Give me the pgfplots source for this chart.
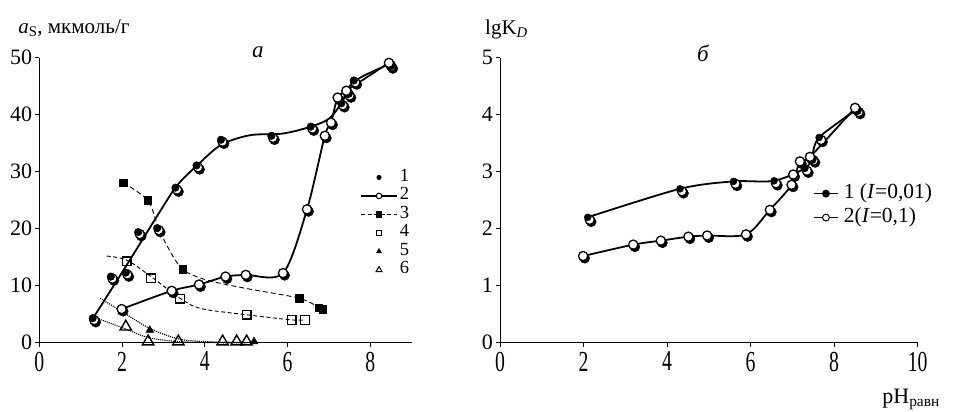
\documentclass[border=0pt]{standalone}
\usepackage{fontspec}
\setmainfont{Liberation Serif}
\usepackage{graphicx}
\usepackage{pgfplots}
\pgfplotsset{compat=1.18}

\pgfplotsset{
  panel/.style={
    scale only axis, height=285pt, anchor=south west,
    axis lines=left, axis line style={line width=1pt,-},
    xmin=0, ymin=0, clip=false,
    tick align=outside, major tick length=4pt,
    tick style={black, line width=1pt},
    /pgf/number format/assume math mode=true,
    yticklabel style={font=\fontsize{22}{22}\selectfont, inner sep=0pt, xshift=-3pt},
    xticklabel style={font=\fontsize{29}{29}\selectfont, inner sep=0pt, yshift=-5pt},
    xticklabel={\scalebox{0.68}[1]{\pgfmathprintnumber{\tick}}},
    legend cell align=left,
  },
  % dark offset disc under open circles
  shadowmk/.style 2 args={only marks, forget plot, mark=*, mark size=5pt,
    mark options={fill=black, draw=black, line width=0.4pt, xshift=#1, yshift=#2}},
  whitemk/.style 2 args={only marks, forget plot, mark=*, mark size=4.6pt,
    mark options={fill=white, draw=black, line width=1.3pt, xshift=#1, yshift=#2}},
}

\begin{document}
\begin{tikzpicture}
\path[use as bounding box] (-39.3pt,-69.3pt) rectangle (914.7pt,342.7pt);

% ---------- panel a ----------
\begin{axis}[panel, at={(0pt,0pt)}, width=372.4pt,
  xmax=9, ymax=50, xtick={0,2,4,6,8}, ytick={0,10,20,30,40,50},
  legend style={at={(0.861,0.613)}, anchor=north west, draw=none, fill=none,
    inner sep=0pt, row sep=0pt, column sep=2pt,
    font=\fontsize{18.5}{18.5}\selectfont,
    nodes={inner sep=0pt, text height=13pt, text depth=5.5pt}},
  legend image code/.code={\draw[mark repeat=2,mark phase=2,#1] plot coordinates {(0pt,0pt) (18pt,0pt) (36pt,0pt)};},
]
\addlegendimage{only marks, mark=*, mark size=2.3pt}
\addlegendentry{1}
\addlegendimage{line width=1.8pt, mark=*, mark size=2.8pt, mark options={fill=white, line width=1pt}}
\addlegendentry{2}
\addlegendimage{line width=1pt, dash pattern=on 4pt off 2.5pt, mark=square*, mark size=2.6pt, mark options={solid}}
\addlegendentry{3}
\addlegendimage{only marks, mark=square, mark size=2.7pt, mark options={line width=1pt}}
\addlegendentry{4}
\addlegendimage{only marks, mark=triangle*, mark size=3pt}
\addlegendentry{5}
\addlegendimage{only marks, mark=triangle, mark size=3.4pt, mark options={line width=1pt}}
\addlegendentry{6}

% series 5 and 6 fit lines
\addplot[forget plot, smooth, densely dotted, line width=1.1pt] coordinates {
  (1.47,7.8) (1.99,5.5) (2.67,2.5) (3.40,0.6) (4.20,0.15) (5.19,0.0)};
\addplot[forget plot, smooth, densely dotted, line width=1.1pt] coordinates {
  (1.39,4.3) (2.09,2.4) (2.63,0.9) (3.36,0.2) (4.43,0.0) (5.01,0.0)};
% series 4 fit line
\addplot[forget plot, smooth, line width=0.9pt, dash pattern=on 4pt off 2.5pt] coordinates {
  (1.63,15.2) (2.11,14.5) (2.70,11.6) (3.40,7.8) (3.90,6.0) (5.01,4.9) (6.10,4.0) (6.42,4.0)};
% series 3 fit line
\addplot[forget plot, smooth, line width=0.9pt, dash pattern=on 5pt off 3pt] coordinates {
  (2.03,28.1) (2.62,25.0) (2.84,21.0) (3.08,17.1) (3.46,12.9) (4.04,11.0) (5.01,9.5) (6.28,7.8) (6.80,6.0)};
% series 1 fit line
\addplot[forget plot, smooth, line width=1.8pt] coordinates {
  (1.30,4.3) (2.11,13.6) (2.88,22.6) (3.33,27.6) (3.80,31.0) (4.39,34.7) (5.09,36.4)
  (5.89,36.7) (6.56,37.9) (7.00,39.3) (7.30,42.0) (7.60,45.8) (8.47,48.9)};

% series 3 markers
\addplot[only marks, forget plot, mark=square*, mark size=3.7pt] coordinates {
  (2.03,28.1) (2.62,25.0) (3.46,12.9) (6.28,7.8) (6.75,6.1) (6.85,5.9)};
% series 4 markers
\addplot[only marks, forget plot, mark=square, mark size=4.3pt, mark options={fill=white, line width=1.3pt}] coordinates {
  (2.11,14.3) (2.70,11.3) (3.40,7.7) (5.01,4.9) (6.10,4.0) (6.42,4.0)};
% series 6 markers
\addplot[only marks, forget plot, mark=triangle, mark size=6.5pt, mark options={fill=white, line width=1.4pt}] coordinates {
  (2.09,2.8) (2.63,0.2) (3.36,0.2) (4.43,0.2) (4.77,0.2) (5.01,0.2)};
% series 5 markers
\addplot[only marks, forget plot, mark=triangle*, mark size=4.5pt] coordinates {
  (1.99,5.4) (2.67,2.2) (5.19,0.2)};

% series 1: filled dots with a white halo
\addplot[shadowmk={3.1pt}{-4pt}] coordinates {
  (1.29,4.3) (1.73,11.6) (2.09,12.3) (2.39,19.4) (2.85,20.1) (3.29,27.2) (3.80,31.1)
  (4.39,35.6) (5.61,36.3) (6.56,37.9) (7.30,42.0) (7.46,43.7) (7.60,46.0) (8.47,48.8)};
\addplot[whitemk={1.6pt}{-2pt}] coordinates {
  (1.29,4.3) (1.73,11.6) (2.09,12.3) (2.39,19.4) (2.85,20.1) (3.29,27.2) (3.80,31.1)
  (4.39,35.6) (5.61,36.3) (6.56,37.9) (7.30,42.0) (7.46,43.7) (7.60,46.0) (8.47,48.8)};
\addplot[only marks, forget plot, mark=*, mark size=3.8pt] coordinates {
  (1.29,4.3) (1.73,11.6) (2.09,12.3) (2.39,19.4) (2.85,20.1) (3.29,27.2) (3.80,31.1)
  (4.39,35.6) (5.61,36.3) (6.56,37.9) (7.30,42.0) (7.46,43.7) (7.60,46.0) (8.47,48.8)};

% series 2: open circles and curve
\addplot[forget plot, smooth, line width=1.8pt] coordinates {
  (1.99,5.9) (3.20,9.1) (3.86,10.2) (4.50,11.6) (4.99,11.9) (5.89,12.2)
  (6.47,23.4) (6.90,36.3) (7.05,38.6) (7.21,43.0) (7.42,44.2) (8.45,49.1)};
\addplot[shadowmk={1.6pt}{-2.2pt}] coordinates {
  (1.99,5.9) (3.20,9.1) (3.86,10.2) (4.50,11.6) (4.99,11.9) (5.89,12.2)
  (6.47,23.4) (6.90,36.3) (7.05,38.6) (7.21,43.0) (7.42,44.2) (8.45,49.1)};
\addplot[whitemk={0pt}{0pt}] coordinates {
  (1.99,5.9) (3.20,9.1) (3.86,10.2) (4.50,11.6) (4.99,11.9) (5.89,12.2)
  (6.47,23.4) (6.90,36.3) (7.05,38.6) (7.21,43.0) (7.42,44.2) (8.45,49.1)};

\node[anchor=base west, font=\fontsize{21}{21}\selectfont, inner sep=0pt]
  at (rel axis cs:-0.057,1.084) {\textit{a}\textsubscript{S}, мкмоль/г};
\node[font=\fontsize{23}{23}\selectfont\itshape, inner sep=0pt] at (axis cs:5.28,51.0) {а};
\end{axis}

% ---------- panel b ----------
\begin{axis}[panel, at={(460.7pt,0pt)}, width=417.7pt,
  xmax=10, ymax=5, xtick={0,2,4,6,8,10}, ytick={0,1,2,3,4,5},
  legend style={at={(0.749,0.566)}, anchor=north west, draw=none, fill=none,
    inner sep=0pt, row sep=0pt, column sep=5pt,
    font=\fontsize{21.5}{21.5}\selectfont,
    nodes={inner sep=0pt, text height=17pt, text depth=7pt}},
  legend image code/.code={\draw[mark repeat=2,mark phase=2,#1] plot coordinates {(0pt,0pt) (12pt,0pt) (24pt,0pt)};},
]
\addlegendimage{line width=1.8pt, mark=*, mark size=3pt}
\addlegendentry{1 (\textit{I}=0,01)}
\addlegendimage{line width=1.8pt, mark=*, mark size=3.4pt, mark options={fill=white, line width=1pt}}
\addlegendentry{2(\textit{I}=0,1)}

% series 1
\addplot[forget plot, smooth, line width=1.8pt] coordinates {
  (2.10,2.20) (4.31,2.70) (5.59,2.83) (6.56,2.84) (7.30,3.06) (7.46,3.24) (7.64,3.60) (8.54,4.09)};
\addplot[shadowmk={3.5pt}{-4.5pt}] coordinates {
  (2.10,2.20) (4.31,2.70) (5.59,2.83) (6.56,2.84) (7.30,3.06) (7.46,3.24) (7.64,3.60) (8.54,4.09)};
\addplot[whitemk={2pt}{-2.5pt}] coordinates {
  (2.10,2.20) (4.31,2.70) (5.59,2.83) (6.56,2.84) (7.30,3.06) (7.46,3.24) (7.64,3.60) (8.54,4.09)};
\addplot[only marks, forget plot, mark=*, mark size=3.5pt] coordinates {
  (2.10,2.20) (4.31,2.70) (5.59,2.83) (6.56,2.84) (7.30,3.06) (7.46,3.24) (7.64,3.60) (8.54,4.09)};

% series 2
\addplot[forget plot, smooth, line width=1.8pt] coordinates {
  (1.99,1.52) (3.19,1.72) (3.85,1.79) (4.51,1.86) (4.96,1.88) (5.89,1.90)
  (6.46,2.33) (6.98,2.77) (7.18,3.18) (7.42,3.26) (8.50,4.12)};
\addplot[shadowmk={1.6pt}{-2.2pt}] coordinates {
  (1.99,1.52) (3.19,1.72) (3.85,1.79) (4.51,1.86) (4.96,1.88) (5.89,1.90)
  (6.46,2.33) (6.98,2.77) (7.02,2.95) (7.18,3.18) (7.42,3.26) (8.50,4.12)};
\addplot[whitemk={0pt}{0pt}] coordinates {
  (1.99,1.52) (3.19,1.72) (3.85,1.79) (4.51,1.86) (4.96,1.88) (5.89,1.90)
  (6.46,2.33) (6.98,2.77) (7.02,2.95) (7.18,3.18) (7.42,3.26) (8.50,4.12)};

\node[anchor=base west, font=\fontsize{21}{21}\selectfont, inner sep=0pt]
  at (rel axis cs:-0.036,1.083) {lgK\textsubscript{\textit{D}}};
\node[font=\fontsize{23}{23}\selectfont\itshape, inner sep=0pt] at (axis cs:4.86,5.08) {б};
\node[anchor=base west, font=\fontsize{22}{22}\selectfont, inner sep=0pt]
  at (rel axis cs:0.915,-0.214) {pH\textsubscript{равн}};
\end{axis}
\end{tikzpicture}
\end{document}
